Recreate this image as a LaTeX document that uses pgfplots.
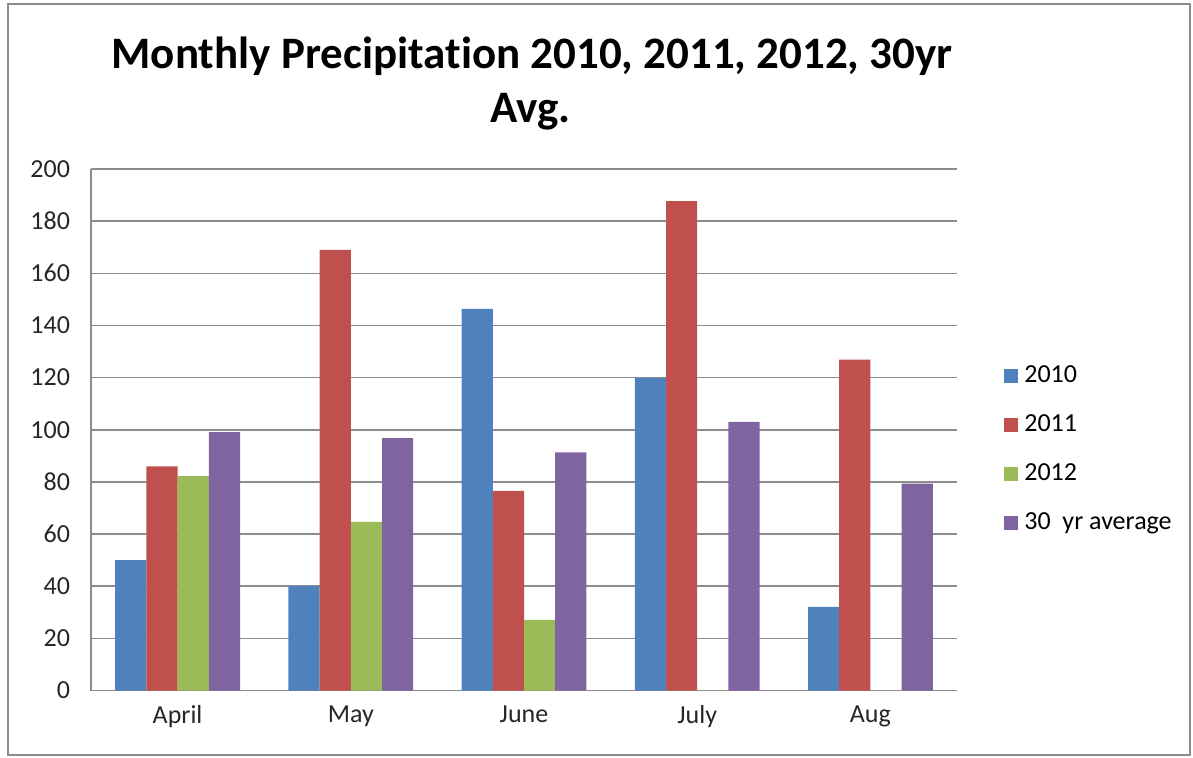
\documentclass[border=0pt]{standalone}
\usepackage{pgfplots}
\pgfplotsset{compat=1.18}
\usepackage{fontspec}
\setmainfont{Carlito}[Ligatures=NoCommon]
\definecolor{c2010}{HTML}{4F81BD}
\definecolor{c2011}{HTML}{C0504D}
\definecolor{c2012}{HTML}{9BBB59}
\definecolor{cavg}{HTML}{8064A2}
\definecolor{gridc}{HTML}{8C8C8C}
\begin{document}
\begin{tikzpicture}
\useasboundingbox (-45.5pt,-33.25pt) rectangle (551pt,345.25pt);
\draw[gridc, line width=0.8pt] (-41.5pt,-32.25pt) rectangle (549.5pt,343.25pt);
\begin{axis}[
  at={(0pt,0pt)}, anchor=south west,
  scale only axis,
  width=433pt, height=260.75pt,
  ybar=0pt, bar width=15.6pt,
  xmin=-0.5, xmax=4.5,
  ymin=0, ymax=200,
  ytick={0,20,...,200},
  xtick={0,1,2,3,4},
  xticklabels={April,May,June,July,Aug},
  major tick length=0pt,
  axis x line*=bottom, axis y line*=left,
  axis line style={gridc, line width=0.8pt},
  ymajorgrids, grid style={gridc, line width=0.8pt},
  tick label style={font=\fontsize{13}{15}\selectfont, text=black!85},
  /pgf/number format/assume math mode=true,
  yticklabel style={xshift=-7pt},
  xticklabel style={yshift=-4pt},
  legend style={draw=none, fill=none, at={(1.0473,0.4627)}, anchor=west,
    font=\fontsize{13}{15}\selectfont, row sep=11pt,
    nodes={inner sep=1pt, text height=9pt, text depth=2.5pt}},
  legend cell align=left,
  legend image code/.code={\fill[#1] (0pt,-3.5pt) rectangle (7pt,3.5pt);},
  clip=false,
]
\addplot[fill=c2010, draw=none] coordinates {(0,50.0) (1,40.0) (2,146.4) (3,119.8) (4,32.1)};
\addplot[fill=c2011, draw=none] coordinates {(0,86.0) (1,169.0) (2,76.6) (3,187.7) (4,126.9)};
\addplot[fill=c2012, draw=none] coordinates {(0,82.2) (1,64.7) (2,27.1) (3,0) (4,0)};
\addplot[fill=cavg, draw=none] coordinates {(0,99.1) (1,96.8) (2,91.3) (3,103.0) (4,79.3)};
\legend{\hspace{2pt}2010,\hspace{2pt}2011,\hspace{2pt}2012,\hspace{2pt}30\ \ yr average}
\end{axis}
\node[anchor=base, font=\bfseries\fontsize{22.5}{26}\selectfont] at (220.5pt,311.25pt) {Monthly Precipitation 2010, 2011, 2012, 30yr};
\node[anchor=base, font=\bfseries\fontsize{22.5}{26}\selectfont] at (219.75pt,283.75pt) {Avg.};
\end{tikzpicture}
\end{document}
